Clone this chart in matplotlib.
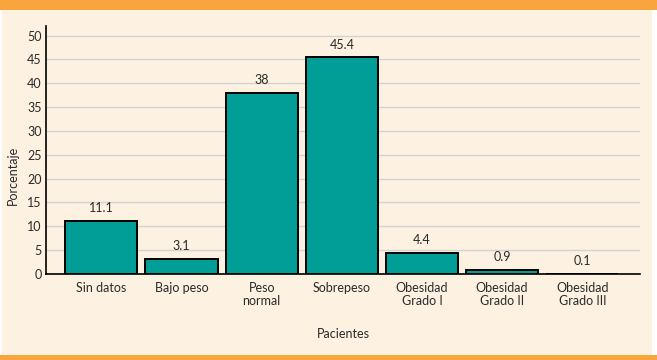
import matplotlib
matplotlib.use("Agg")
import matplotlib.pyplot as plt
from matplotlib.patches import Rectangle

categories = ["Sin datos", "Bajo peso", "Peso\nnormal", "Sobrepeso",
              "Obesidad\nGrado I", "Obesidad\nGrado II", "Obesidad\nGrado III"]
values = [11.1, 3.1, 38, 45.4, 4.4, 0.9, 0.1]
value_labels = ["11.1", "3.1", "38", "45.4", "4.4", "0.9", "0.1"]
yticks = [0, 5, 10, 15, 20, 25, 30, 35, 40, 45, 50]

W, H = 657, 360
plt.rcParams['font.family'] = ['Lato', 'DejaVu Sans']

fig = plt.figure(figsize=(W / 100, H / 100), dpi=100)
fig.patch.set_facecolor("white")

cream = "#FDF1E2"
orange = "#F9A53E"
teal = "#009E96"
txt = "#2a2a2a"

# background panels
fig.patches.append(Rectangle((2 / W, 0), 650 / W, 1, transform=fig.transFigure,
                             facecolor=cream, edgecolor="none", zorder=-2))
fig.patches.append(Rectangle((0, 1 - 10 / H), 1, 10 / H, transform=fig.transFigure,
                             facecolor=orange, edgecolor="none", zorder=-1))
fig.patches.append(Rectangle((0, 0), 1, 5 / H, transform=fig.transFigure,
                             facecolor=orange, edgecolor="none", zorder=-1))

ax = fig.add_axes([46 / W, 1 - 274 / H, (640 - 46) / W, (274 - 26) / H])
ax.set_facecolor("none")

x = list(range(len(categories)))
bars = ax.bar(x, values, width=0.9, color=teal, edgecolor="black", linewidth=1.4, zorder=3)
for xi, v, lab in zip(x, values, value_labels):
    ax.annotate(lab, (xi, v), xytext=(0, 5), textcoords="offset points",
                ha="center", va="bottom", fontsize=9, color=txt)

ax.set_xlim(-0.69, 6.72)
ax.set_ylim(0, 52)
ax.set_yticks(yticks)
ax.set_xticks(x)
ax.set_xticklabels(categories, fontsize=9, color=txt, linespacing=1.1)
ax.tick_params(axis="y", length=0, pad=3, labelsize=9, labelcolor=txt)
ax.tick_params(axis="x", length=0, pad=6)
ax.yaxis.grid(True, color="#D3D3D3", linewidth=1, zorder=0)
ax.set_axisbelow(True)
for s in ["top", "right"]:
    ax.spines[s].set_visible(False)
ax.spines["left"].set_color("black")
ax.spines["bottom"].set_color("black")
ax.spines["left"].set_linewidth(1.2)
ax.spines["bottom"].set_linewidth(1.2)

fig.text(13 / W, 1 - 175 / H, "Porcentaje", rotation=90, ha="center", va="center",
         fontsize=9, color=txt)
fig.text(343 / W, 1 - 334 / H, "Pacientes", ha="center", va="center",
         fontsize=9, color=txt)

fig.savefig("out.png", dpi=100, facecolor=fig.get_facecolor())
